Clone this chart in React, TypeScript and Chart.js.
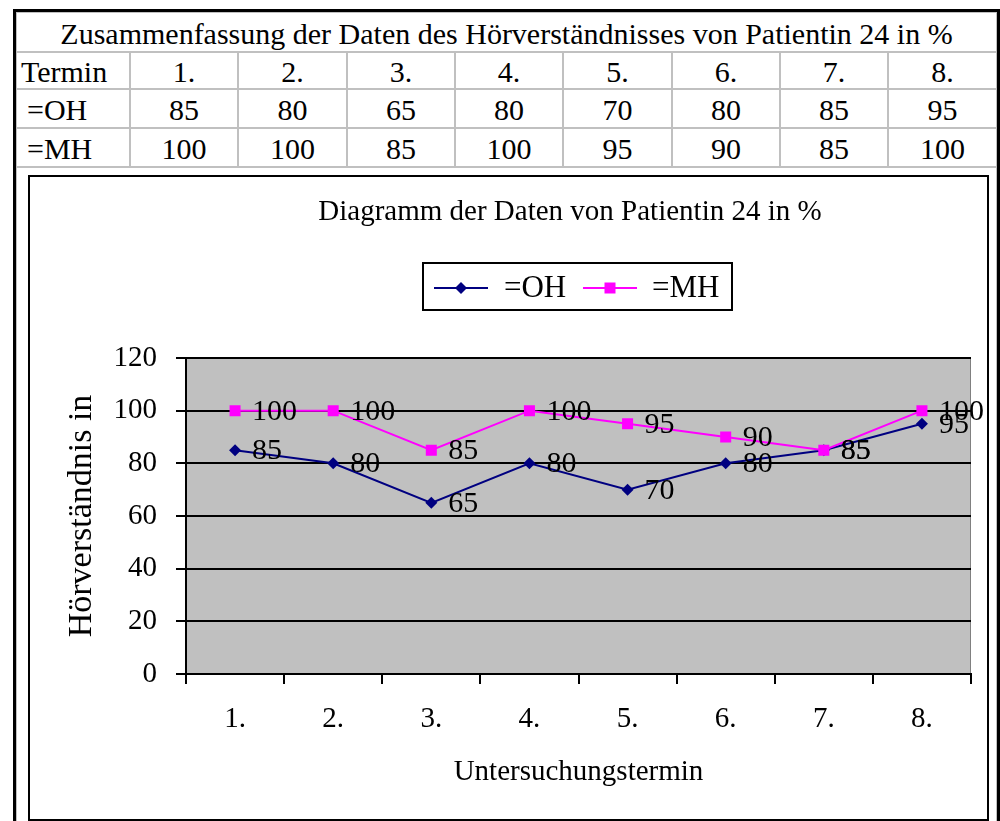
import React, { useEffect, useRef } from 'react';
import { Chart, registerables } from 'chart.js';

Chart.register(...registerables);

// ---------- data ----------
const categories = ['1.', '2.', '3.', '4.', '5.', '6.', '7.', '8.'];
const ohValues = [85, 80, 65, 80, 70, 80, 85, 95];
const mhValues = [100, 100, 85, 100, 95, 90, 85, 100];
const seriesNames = ['=OH', '=MH'];
const rowHeader = 'Termin';
const tableTitle = 'Zusammenfassung der Daten des Hörverständnisses von Patientin 24 in %';
const chartTitle = 'Diagramm der Daten von Patientin 24 in %';
const yAxisTitle = 'Hörverständnis in';
const xAxisTitle = 'Untersuchungstermin';
const yMin = 0;
const yMax = 120;
const yStep = 20;

// ---------- style / layout ----------
const FONT = '"Liberation Serif", "Times New Roman", Times, serif';
const OH_COLOR = '#000080';
const MH_COLOR = '#ff00ff';
const GRAY = '#c0c0c0';

const colX = [16, 130, 238, 347, 455, 563, 672, 780, 888, 997];
const rowY = [12, 52, 89, 128, 167];

// canvas placement (page coords)
const CX = 30;
const CY = 177;
const CW = 957;
const CH = 642;

const CHART_LEFT = 156; // canvas coords of plot area
const CHART_RIGHT = 941;
const CHART_TOP = 181;
const CHART_BOTTOM = 497;
const PAD_LEFT = 32;

const plotBgPlugin = {
  id: 'plotBg',
  beforeDraw(chart: any) {
    const { ctx, chartArea: a } = chart;
    ctx.save();
    ctx.fillStyle = GRAY;
    ctx.fillRect(a.left, a.top, a.right - a.left, a.bottom - a.top);
    ctx.strokeStyle = '#808080';
    ctx.lineWidth = 1;
    ctx.beginPath();
    ctx.moveTo(Math.round(a.right) - 0.5, a.top);
    ctx.lineTo(Math.round(a.right) - 0.5, a.bottom);
    ctx.stroke();
    ctx.restore();
  },
};

const dataLabelPlugin = {
  id: 'dataLabels',
  afterDatasetsDraw(chart: any) {
    const { ctx } = chart;
    ctx.save();
    ctx.fillStyle = '#000';
    ctx.font = `30px ${FONT}`;
    ctx.textAlign = 'left';
    ctx.textBaseline = 'middle';
    chart.data.datasets.forEach((ds: any, i: number) => {
      const meta = chart.getDatasetMeta(i);
      meta.data.forEach((pt: any, j: number) => {
        ctx.fillText(String(ds.data[j]), pt.x + 17, pt.y + 1);
      });
    });
    ctx.restore();
  },
};

function drawMarker(ctx: CanvasRenderingContext2D, style: string, x: number, y: number, color: string) {
  ctx.fillStyle = color;
  ctx.beginPath();
  if (style === 'rectRot') {
    const r = 6;
    ctx.moveTo(x - r, y);
    ctx.lineTo(x, y - r);
    ctx.lineTo(x + r, y);
    ctx.lineTo(x, y + r);
    ctx.closePath();
  } else {
    const h = 5.5;
    ctx.rect(x - h, y - h, 2 * h, 2 * h);
  }
  ctx.fill();
}

const titleLegendPlugin = {
  id: 'titleLegend',
  afterDraw(chart: any) {
    const { ctx } = chart;
    ctx.save();
    // title
    ctx.fillStyle = '#000';
    ctx.font = `29px ${FONT}`;
    ctx.textAlign = 'center';
    ctx.textBaseline = 'alphabetic';
    ctx.fillText(chartTitle, 540, 43);

    // legend box
    ctx.strokeStyle = '#000';
    ctx.lineWidth = 2;
    ctx.strokeRect(393, 86, 309, 47);

    const items = [
      { x: 404, textX: 474 },
      { x: 553, textX: 622 },
    ];
    const ly = 111;
    chart.data.datasets.forEach((ds: any, i: number) => {
      const it = items[i];
      ctx.strokeStyle = ds.borderColor;
      ctx.lineWidth = 2;
      ctx.beginPath();
      ctx.moveTo(it.x, ly);
      ctx.lineTo(it.x + 54, ly);
      ctx.stroke();
      drawMarker(ctx, ds.pointStyle, it.x + 27, ly, ds.borderColor);
      ctx.fillStyle = '#000';
      ctx.font = `31px ${FONT}`;
      ctx.textAlign = 'left';
      ctx.textBaseline = 'alphabetic';
      ctx.fillText(ds.label, it.textX, 120);
    });
    ctx.restore();
  },
};

function ChartBox() {
  const ref = useRef<HTMLCanvasElement | null>(null);
  useEffect(() => {
    document.body.style.overflow = 'hidden';
    const canvas = ref.current;
    if (!canvas) return;
    const axisFont = { family: FONT, size: 29 };
    const chart = new Chart(canvas, {
      type: 'line',
      data: {
        labels: categories,
        datasets: [
          {
            label: seriesNames[0],
            data: ohValues,
            borderColor: OH_COLOR,
            backgroundColor: OH_COLOR,
            borderWidth: 2,
            pointStyle: 'rectRot',
            pointRadius: 6,
            pointBorderWidth: 0,
            tension: 0,
            order: 2,
          },
          {
            label: seriesNames[1],
            data: mhValues,
            borderColor: MH_COLOR,
            backgroundColor: MH_COLOR,
            borderWidth: 2,
            pointStyle: 'rect',
            pointRadius: 7.8,
            pointBorderWidth: 0,
            tension: 0,
            order: 1,
          },
        ],
      },
      options: {
        responsive: false,
        animation: false,
        events: [],
        layout: {
          padding: { left: PAD_LEFT, top: CHART_TOP, right: CW - CHART_RIGHT, bottom: 0 },
        },
        plugins: {
          legend: { display: false },
          title: { display: false },
          tooltip: { enabled: false },
        },
        scales: {
          x: {
            offset: true,
            grid: {
              display: true,
              drawOnChartArea: false,
              drawTicks: true,
              tickLength: 10,
              color: '#000',
              lineWidth: 2,
              offset: true,
            },
            border: { display: true, color: '#000', width: 2 },
            ticks: { color: '#000', font: axisFont, padding: 18, maxRotation: 0, autoSkip: false },
            title: {
              display: true,
              text: xAxisTitle,
              color: '#000',
              font: axisFont,
              padding: { top: 0, bottom: 29 },
            },
            afterFit: (s: any) => {
              s.height = CH - CHART_BOTTOM;
            },
          },
          y: {
            min: yMin,
            max: yMax,
            ticks: { stepSize: yStep, color: '#000', font: axisFont, padding: 19 },
            grid: { color: '#000', lineWidth: 2, tickLength: 10 },
            border: { display: true, color: '#000', width: 2 },
            title: {
              display: true,
              text: yAxisTitle,
              color: '#000',
              font: { family: FONT, size: 34 },
              padding: { top: 0, bottom: 0 },
            },
            afterFit: (s: any) => {
              s.width = CHART_LEFT - PAD_LEFT;
            },
          },
        },
      },
      plugins: [plotBgPlugin, dataLabelPlugin, titleLegendPlugin],
    } as any);
    return () => chart.destroy();
  }, []);
  return <canvas ref={ref} width={CW} height={CH} style={{ display: 'block', width: CW, height: CH }} />;
}

function Cell(props: { x0: number; x1: number; y0: number; y1: number; text: string; align?: 'left' | 'center'; padLeft?: number; size?: number }) {
  const { x0, x1, y0, y1, text, align = 'center', padLeft = 0, size = 30 } = props;
  return (
    <div
      style={{
        position: 'absolute',
        left: x0,
        top: y0,
        width: x1 - x0,
        height: y1 - y0,
        boxSizing: 'border-box',
        border: `1px solid ${GRAY}`,
        display: 'flex',
        alignItems: 'center',
        justifyContent: align === 'left' ? 'flex-start' : 'center',
        paddingLeft: padLeft,
        paddingTop: 3,
        fontFamily: FONT,
        fontSize: size,
        color: '#000',
        whiteSpace: 'nowrap',
        lineHeight: 1,
      }}
    >
      {text}
    </div>
  );
}

export default function App() {
  const rows: { head: string; values: string[]; pad: number }[] = [
    { head: rowHeader, values: categories, pad: 4 },
    { head: seriesNames[0], values: ohValues.map(String), pad: 10 },
    { head: seriesNames[1], values: mhValues.map(String), pad: 10 },
  ];
  return (
    <div style={{ position: 'absolute', left: 0, top: 0, width: 1000, height: 821, overflow: 'hidden', background: '#fff' }}>
      {/* outer black table border */}
      <div
        style={{
          position: 'absolute',
          left: 13,
          top: 9,
          width: 987,
          height: 830,
          boxSizing: 'border-box',
          borderLeft: '3px solid #000',
          borderTop: '3px solid #000',
          borderRight: '3px solid #000',
        }}
      />
      <Cell x0={colX[0]} x1={colX[9]} y0={rowY[0]} y1={rowY[1]} text={tableTitle} />
      {rows.map((r, ri) => (
        <React.Fragment key={ri}>
          <Cell x0={colX[0]} x1={colX[1]} y0={rowY[ri + 1]} y1={rowY[ri + 2]} text={r.head} align="left" padLeft={r.pad} />
          {r.values.map((v, ci) => (
            <Cell key={ci} x0={colX[ci + 1]} x1={colX[ci + 2]} y0={rowY[ri + 1]} y1={rowY[ri + 2]} text={v} />
          ))}
        </React.Fragment>
      ))}
      {/* chart row cell */}
      <div
        style={{
          position: 'absolute',
          left: colX[0],
          top: rowY[4],
          width: colX[9] - colX[0],
          height: 700,
          boxSizing: 'border-box',
          border: `1px solid ${GRAY}`,
        }}
      />
      {/* chart box */}
      <div
        style={{
          position: 'absolute',
          left: CX - 2,
          top: CY - 2,
          width: CW + 4,
          height: CH + 4,
          boxSizing: 'border-box',
          border: '2px solid #000',
          background: '#fff',
        }}
      >
        <ChartBox />
      </div>
    </div>
  );
}
